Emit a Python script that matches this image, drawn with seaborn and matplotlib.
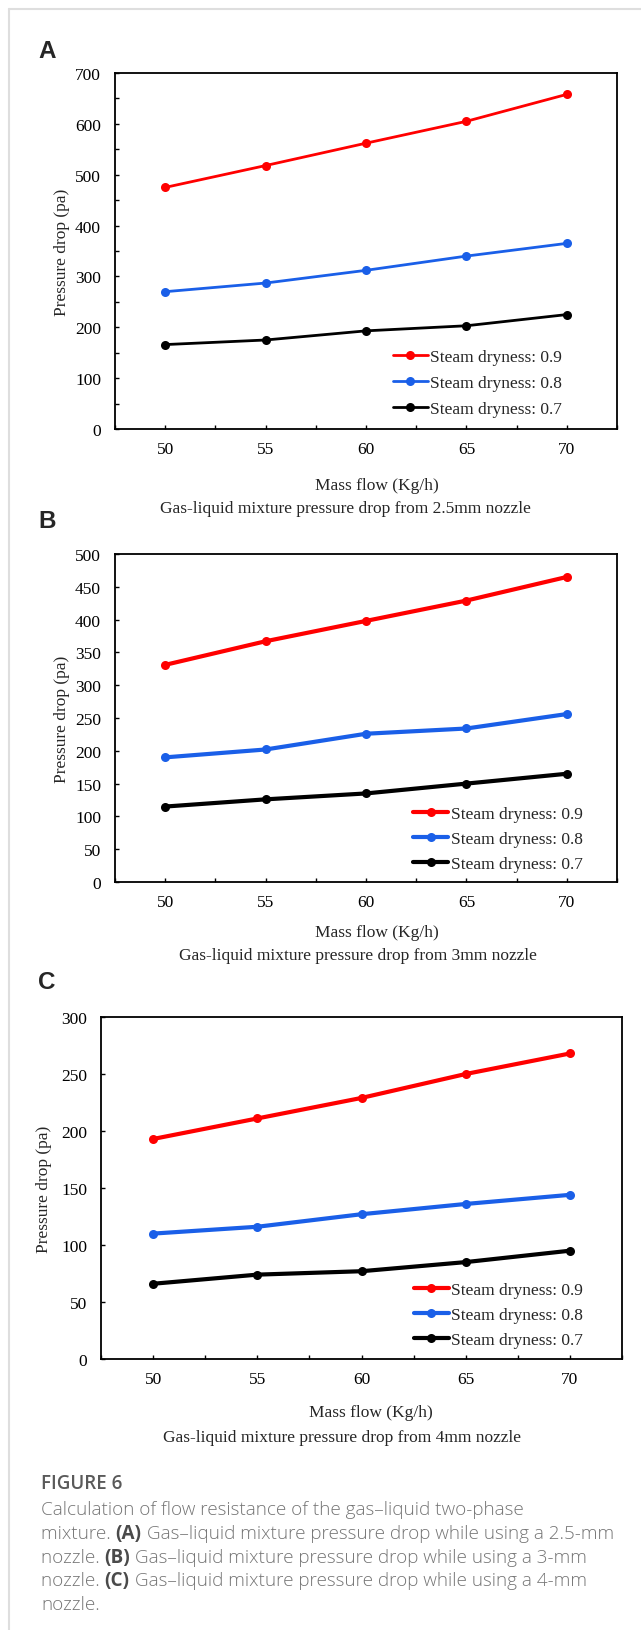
import pandas as pd
import numpy as np
import seaborn as sns
import matplotlib.pyplot as plt
from matplotlib.lines import Line2D
from matplotlib.ticker import MultipleLocator

# data
flow = [50, 55, 60, 65, 70]
labels = ['Steam dryness: 0.9', 'Steam dryness: 0.8', 'Steam dryness: 0.7']
colors = ['#ff0000', '#1a5fe8', '#000000']

a_09 = [475, 518, 562, 605, 658]
a_08 = [270, 287, 312, 340, 365]
a_07 = [166, 175, 193, 203, 225]

b_09 = [331, 367, 398, 429, 465]
b_08 = [190, 202, 226, 234, 256]
b_07 = [115, 126, 135, 150, 165]

c_09 = [193, 211, 229, 250, 268]
c_08 = [110, 116, 127, 136, 144]
c_07 = [66, 74, 77, 85, 95]

titles = ['Gas-liquid mixture pressure drop from 2.5mm nozzle',
          'Gas-liquid mixture pressure drop from 3mm nozzle',
          'Gas-liquid mixture pressure drop from 4mm nozzle']

sns.set_style('white')
plt.rcParams['font.family'] = ['Liberation Serif', 'DejaVu Serif']

W, H = 641, 1631
fig = plt.figure(figsize=(W / 100, H / 100), dpi=100)


def rect(l, t, r, b):
    return [l / W, 1 - b / H, (r - l) / W, (b - t) / H]


def make_df(s09, s08, s07):
    rows = []
    for lab, vals in zip(labels, [s09, s08, s07]):
        for f, v in zip(flow, vals):
            rows.append({'flow': f, 'drop': v, 'series': lab})
    return pd.DataFrame(rows)


panels = [
    dict(box=(115, 74, 617, 430), df=make_df(a_09, a_08, a_07), ymax=700, ystep=100, yminor=50,
         lw=2.0, ylab_x=-0.09, leg=(0.554, 0.033), lsp=0.58, letter='A', ly=52,
         mf=(377, 486), tt=(345, 509)),
    dict(box=(115, 555, 617, 883), df=make_df(b_09, b_08, b_07), ymax=500, ystep=50, yminor=None,
         lw=3.0, ylab_x=-0.09, leg=(0.594, 0.03), lsp=0.5, letter='B', ly=522,
         mf=(377, 933), tt=(358, 956)),
    dict(box=(101, 1018, 622, 1360), df=make_df(c_09, c_08, c_07), ymax=300, ystep=50, yminor=None,
         lw=3.0, ylab_x=-0.094, leg=(0.601, 0.032), lsp=0.52, letter='C', ly=983,
         mf=(371, 1413), tt=(342, 1438)),
]

for i, p in enumerate(panels):
    ax = fig.add_axes(rect(*p['box']))
    sns.lineplot(data=p['df'], x='flow', y='drop', hue='series', hue_order=labels,
                 palette=colors, marker='o', markersize=6.5, markeredgewidth=0,
                 linewidth=p['lw'], ax=ax)
    ax.set_xlim(47.5, 72.5)
    ax.set_ylim(0, p['ymax'])
    ax.xaxis.set_major_locator(MultipleLocator(5))
    ax.xaxis.set_minor_locator(MultipleLocator(2.5))
    ax.yaxis.set_major_locator(MultipleLocator(p['ystep']))
    if p['yminor']:
        ax.yaxis.set_minor_locator(MultipleLocator(p['yminor']))
    ax.tick_params(which='both', direction='in', length=3, width=1, color='black',
                   labelsize=12.5, labelcolor='black')
    ax.tick_params(axis='y', pad=10)
    ax.tick_params(axis='x', pad=9)
    ax.tick_params(top=False, right=False, which='both')
    ax.tick_params(axis='x', bottom=True, which='both')
    ax.tick_params(axis='y', left=True, which='both')
    for s in ax.spines.values():
        s.set_color('black')
        s.set_linewidth(1.3)
    ax.set_xlabel('')
    ax.set_ylabel('Pressure drop (pa)', fontsize=12.5)
    ax.yaxis.set_label_coords(p['ylab_x'], 0.5)
    ax.legend(loc='lower left', bbox_to_anchor=p['leg'], frameon=False, fontsize=12.5,
              handlelength=2.0, handletextpad=0.15, labelspacing=p['lsp'],
              borderpad=0, borderaxespad=0)

    fig.text(p['mf'][0] / W, 1 - p['mf'][1] / H, 'Mass flow (Kg/h)', ha='center', va='center',
             fontsize=12.5)
    fig.text(p['tt'][0] / W, 1 - p['tt'][1] / H, titles[i], ha='center', va='center',
             fontsize=12.5)
    fig.text(47 / W, 1 - p['ly'] / H, p['letter'], ha='center', va='center', fontsize=17.5,
             fontweight='bold', family=['Liberation Sans', 'DejaVu Sans'])

# card border (top and left)
fig.add_artist(Line2D([9 / W, 1], [1 - 10 / H, 1 - 10 / H], color='#dedede', lw=1.5))
fig.add_artist(Line2D([9 / W, 9 / W], [0, 1 - 10 / H], color='#dedede', lw=1.5))

# caption
cap_font = ['Open Sans', 'DejaVu Sans']
fig.text(41 / W, 1 - 1484 / H, 'FIGURE 6', ha='left', va='center', fontsize=13.5,
         color='#5a5a5a', fontweight='semibold', family=cap_font)

cap_lines = [
    [('Calculation of flow resistance of the gas\u2013liquid two-phase', False)],
    [('mixture. ', False), ('(A)', True),
     (' Gas\u2013liquid mixture pressure drop while using a 2.5-mm', False)],
    [('nozzle. ', False), ('(B)', True),
     (' Gas\u2013liquid mixture pressure drop while using a 3-mm', False)],
    [('nozzle. ', False), ('(C)', True),
     (' Gas\u2013liquid mixture pressure drop while using a 4-mm', False)],
    [('nozzle.', False)],
]
cap_y = [1510, 1534, 1558, 1581, 1605]

fig.canvas.draw()
renderer = fig.canvas.get_renderer()
for segs, yy in zip(cap_lines, cap_y):
    x0 = 41
    for txt, bold in segs:
        t = fig.text(x0 / W, 1 - yy / H, txt, ha='left', va='center', fontsize=13.6,
                     color='#4a4a4a' if bold else '#757575',
                     fontweight='bold' if bold else 'light', family=cap_font)
        bb = t.get_window_extent(renderer=renderer)
        x0 += bb.width

fig.savefig('out.png', dpi=100)
